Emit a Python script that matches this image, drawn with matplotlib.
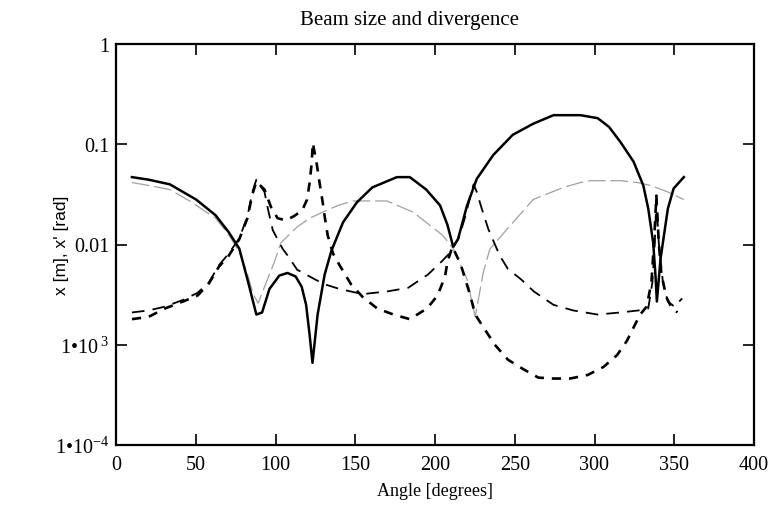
import numpy as np
import matplotlib.pyplot as plt
from matplotlib.ticker import FixedLocator, NullLocator

plt.rcParams['font.family'] = 'Liberation Serif'
plt.rcParams['mathtext.fontset'] = 'custom'
plt.rcParams['mathtext.rm'] = 'Liberation Serif'
plt.rcParams['mathtext.it'] = 'Liberation Serif:italic'

# beam size, plane 1 (solid)
ang_x = [10, 20.5, 33.8, 50.2, 62.4, 70.6, 77.3, 82.4, 88, 91.6, 96.2, 102.4, 107.5,
         112.6, 116.4, 119.2, 121.4, 123.2, 126.4, 130.8, 135.1, 142.3, 151, 160.7,
         176.1, 184.2, 194.5, 203.2, 207.8, 211.4, 214.4, 220.1, 226.2, 236.5, 248.7,
         261.5, 274.3, 291.2, 302, 309.1, 316.3, 324.5, 330.6, 333.7, 336.8, 338.3,
         339.1, 341.4, 346, 349.6, 356]
size_x = [0.047, 0.0443, 0.0398, 0.0281, 0.0196, 0.0133, 0.0091, 0.0045, 0.0020,
          0.0021, 0.0036, 0.0049, 0.0052, 0.0048, 0.0038, 0.0025, 0.00125, 0.00066,
          0.0020, 0.0050, 0.0087, 0.0166, 0.0263, 0.0371, 0.047, 0.047, 0.0353,
          0.0245, 0.0157, 0.0095, 0.0113, 0.0245, 0.0452, 0.078, 0.124, 0.160, 0.195,
          0.195, 0.182, 0.149, 0.105, 0.067, 0.0388, 0.0228, 0.0104, 0.0047, 0.0027,
          0.0072, 0.0228, 0.0362, 0.047]

# beam size, plane 2 (thin grey)
ang_y = [10, 20.5, 33.8, 46.1, 62.4, 70.6, 77.3, 82.4, 86, 89.1, 95, 99.3, 103.4,
         113.2, 121.4, 129.6, 139.2, 148.4, 169.9, 186.3, 204.7, 211.4, 220.1, 225.2,
         230.3, 234.4, 245.3, 261.6, 280.5, 291.2, 297.5, 316.3, 327, 335.2, 346, 356]
size_y = [0.0415, 0.0388, 0.0353, 0.0272, 0.0183, 0.0126, 0.0084, 0.0051, 0.0032,
          0.0026, 0.0045, 0.0067, 0.0104, 0.0148, 0.0183, 0.021, 0.0245, 0.0272,
          0.0272, 0.021, 0.0124, 0.0091, 0.0045, 0.0019, 0.0053, 0.009, 0.0143,
          0.0281, 0.0371, 0.0415, 0.0433, 0.0433, 0.0415, 0.0388, 0.0334, 0.0281]

# divergence, long dashes
ang_dy = [10, 20.5, 30.7, 42, 51.2, 58.3, 64.5, 70.6, 77.3, 82.4, 85.5, 88, 93.1,
          95.2, 98.3, 104.4, 107.5, 113.6, 124.6, 131, 140.2, 154.6, 169.9, 183.2,
          188.3, 195.5, 204.7, 209.8, 215, 219, 222.1, 224.2, 226.2, 229.3, 233.4,
          240.5, 245.7, 253.9, 262, 274.3, 286.6, 302, 316.3, 327.6, 333.7, 336.3,
          337.8, 338.8, 340.3, 342.9, 346, 350.1, 355]
div_y = [0.0021, 0.0022, 0.0024, 0.0028, 0.0033, 0.0042, 0.0062, 0.0081, 0.0115,
         0.0191, 0.0334, 0.0443, 0.0334, 0.0228, 0.0139, 0.0091, 0.0078, 0.0056,
         0.0045, 0.0040, 0.0036, 0.0032, 0.0034, 0.0037, 0.0042, 0.0050, 0.0069,
         0.0084, 0.0117, 0.0191, 0.0299, 0.0398, 0.0334, 0.0228, 0.0143, 0.0078,
         0.0057, 0.0045, 0.0034, 0.0025, 0.0022, 0.0020, 0.0021, 0.0022, 0.0023,
         0.0042, 0.0104, 0.0281, 0.0104, 0.0042, 0.0027, 0.0024, 0.0029]

# divergence, short heavy dashes
ang_dx = [10, 20.5, 30.7, 42, 51.2, 58.3, 64.5, 70.6, 77.3, 82.4, 85.5, 88, 93.1,
          97.2, 101.3, 106.5, 111.6, 116.7, 119.8, 121.4, 122.6, 123.4, 125.9, 127.6,
          129.6, 131, 132.7, 136.1, 140.2, 147.4, 154.6, 163.8, 174, 184.2, 195,
          201.6, 206.3, 207.8, 210.9, 216, 219, 222.1, 225.2, 230.3, 237.5, 245.7,
          255.4, 264.8, 274.3, 284.6, 295.8, 305.6, 314.2, 320.4, 325.5, 328.6,
          332.7, 335.7, 337.3, 338.8, 340.3, 341.9, 345, 348, 352]
div_x = [0.0018, 0.0019, 0.0023, 0.0027, 0.0031, 0.0041, 0.0060, 0.0077, 0.0113,
         0.0183, 0.0316, 0.0424, 0.0353, 0.0236, 0.0183, 0.0174, 0.0192, 0.0218,
         0.0281, 0.0415, 0.063, 0.103, 0.063, 0.0415, 0.0263, 0.0183, 0.0124,
         0.0081, 0.0062, 0.0040, 0.0030, 0.0023, 0.0020, 0.0018, 0.0023, 0.0031,
         0.0048, 0.0067, 0.0095, 0.0064, 0.0045, 0.0031, 0.0020, 0.0015, 0.0010,
         0.00071, 0.00057, 0.00047, 0.00046, 0.00046, 0.00050, 0.00060, 0.00079,
         0.0011, 0.0016, 0.0020, 0.0024, 0.0042, 0.0104, 0.0307, 0.0104, 0.0051,
         0.0030, 0.0024, 0.0021]

yticks = [1e-4, 1e-3, 1e-2, 0.1, 1]
ytick_labels = ['1•10$^{-4}$', '1•10$^{\\ 3}$', '0.01', '0.1', '1']
xticks = [0, 50, 100, 150, 200, 250, 300, 350, 400]

fig = plt.figure(figsize=(7.74, 5.10), dpi=100)
ax = fig.add_axes([116 / 774, 1 - 446 / 510, 638 / 774, 401 / 510])

ax.plot(ang_y, size_y, color='#a0a0a0', lw=0.9, ls=(0, (14, 4)))
ax.plot(ang_dy, div_y, color='black', lw=1.3, ls=(0, (7, 4.5)))
ax.plot(ang_dx, div_x, color='black', lw=1.9, ls=(0, (3.5, 3)))
ax.plot(ang_x, size_x, color='black', lw=1.8)

ax.set_yscale('log')
ax.set_ylim(1e-4, 1)
ax.set_xlim(0, 400)
ax.yaxis.set_major_locator(FixedLocator(yticks))
ax.yaxis.set_minor_locator(NullLocator())
ax.set_yticklabels(ytick_labels)
ax.set_xticks(xticks)

ax.tick_params(direction='in', length=8, width=1.2, top=True, right=True,
               labelsize=14.5)
ax.tick_params(axis='y', pad=5)
ax.tick_params(axis='x', pad=7)
for s in ax.spines.values():
    s.set_linewidth(1.6)

fig.text(410 / 774, 1 - 21 / 510, 'Beam size and divergence', fontsize=15,
         ha='center', va='center')
fig.text(435 / 774, 1 - 492 / 510, 'Angle [degrees]', fontsize=13,
         ha='center', va='center')
fig.text(62 / 774, 1 - 245 / 510, "x [m], x' [rad]", fontsize=12.5,
         family='Liberation Sans', rotation=90, ha='center', va='center')

fig.savefig('out.png', dpi=100)
